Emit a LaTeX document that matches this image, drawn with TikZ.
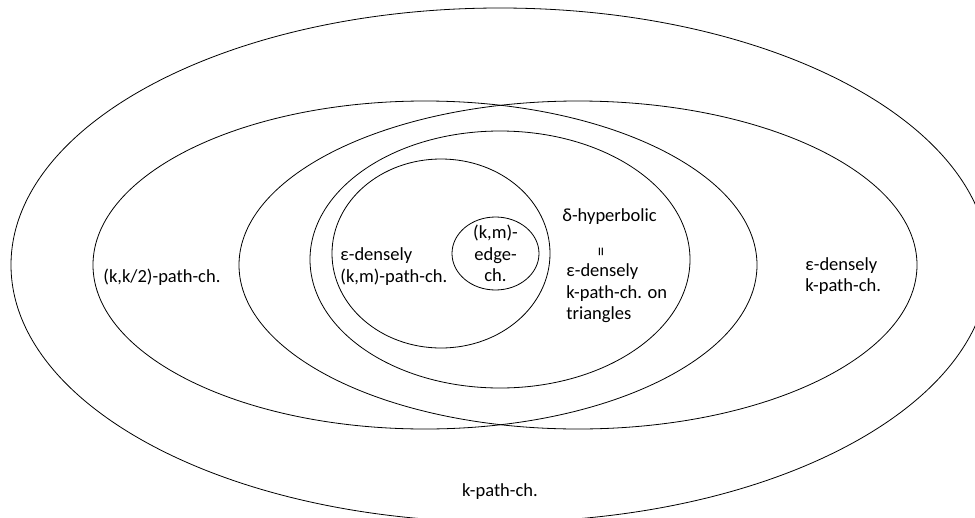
\documentclass[tikz,border=0pt]{standalone}
\usepackage{fontspec}
\setmainfont{Carlito}

\begin{document}
\begin{tikzpicture}[x=1pt, y=-1pt, line width=0.8pt,
    txt/.style={inner sep=0pt, font=\fontsize{18.5}{21.5}\selectfont}]
\newcommand{\bubble}[3]{
    \draw (#1) ellipse [x radius=#2pt, y radius=#3pt];
}
\useasboundingbox (0,0) rectangle (975,517);

\begin{scope}
    \clip (0,0) rectangle (975,517);
    \bubble{500,265}{489}{257}
\end{scope}
\bubble{425,265}{332}{164}
\bubble{578,265}{339}{164}
\bubble{500,259.5}{190}{128.5}
\bubble{441,253.5}{109}{94.5}
\bubble{495.5,253.5}{43.5}{36.5}

\node[txt] (kpath) at (500,492) {k-path-ch.};
\node[txt, anchor=west] (kktwo) at (103,277) {(k,k/2)-path-ch.};
\node[txt, anchor=west, align=left] (denseK) at (805,276) {ε-densely\\k-path-ch.};
\node[txt, anchor=west] (hyp) at (562,217) {δ-hyperbolic};
\node[txt, rotate=90] (equal) at (603,252) {=};
\node[txt, anchor=west, align=left] (denseTri) at (566,293.5) {ε-densely\\k-path-ch. on\\triangles};
\node[txt, anchor=west, align=left] (denseKM) at (340,266.5) {ε-densely\\(k,m)-path-ch.};
\node[txt, align=center] (edge) at (495.5,253.5) {(k,m)-\\edge-\\ch.};
\end{tikzpicture}
\end{document}
